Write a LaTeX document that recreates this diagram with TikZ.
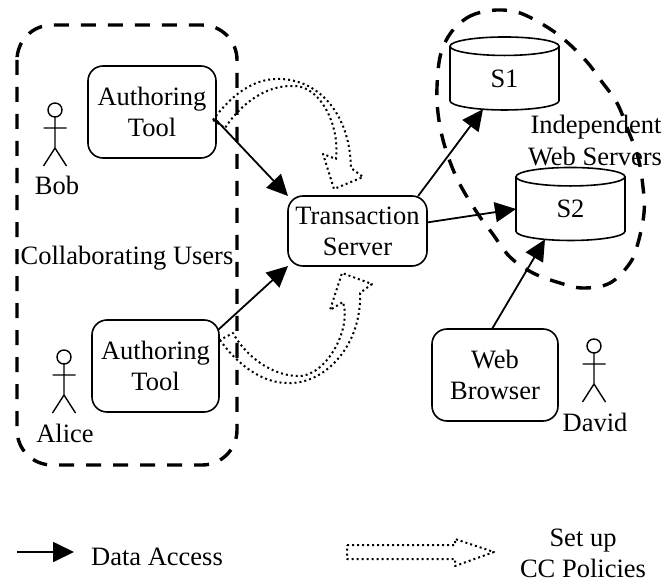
\documentclass[tikz,border=0pt]{standalone}
\usepackage{fontspec}
\setmainfont{Liberation Serif}
\usetikzlibrary{arrows.meta,shapes.geometric}
\tikzset{
  x=1pt,y=-1pt,
  every node/.style={font=\fontsize{26.5}{31}\selectfont,inner sep=0pt,outer sep=0pt},
  toolbox/.style={draw,line width=1.6pt,rounded corners=15pt,align=center},
  store/.style={draw,line width=1.6pt,cylinder,shape border rotate=90,aspect=0.66,minimum width=109pt,minimum height=73pt},
  dataflow/.style={line width=1.8pt,-{Triangle[length=21pt,width=20pt]}},
  groupline/.style={line width=3.4pt,dash pattern=on 15pt off 12pt},
  policyflow/.style={line width=2pt,dash pattern=on 2pt off 3pt,line join=round},
  person/.style={line width=1.4pt},
  lbl/.style={anchor=base}
}
\newcommand{\stick}[2]{%
  \draw[person] (#1,#2) circle[radius=7];
  \draw[person] (#1,#2+7) -- (#1,#2+38) (#1-11.5,#2+18) -- (#1+11.5,#2+18)
    (#1-11.5,#2+56) -- (#1,#2+38) -- (#1+11.5,#2+56);
}
\begin{document}
\begin{tikzpicture}
\useasboundingbox (0,0) rectangle (664,583);
% group outlines
\draw[groupline,rounded corners=35pt] (17,25) rectangle (237,465);
\draw[groupline] plot[smooth cycle,tension=0.6] coordinates {(497,10) (475,14) (460,23) (448,37) (440,57) (437,87) (438,113) (443,140) (452,167) (463,190) (480,217) (492,233) (510,257) (533,273) (560,283) (583,288) (610,283) (630,263) (638,243) (644,213) (643,187) (638,157) (628,130) (617,103) (602,82) (587,62) (567,42) (547,27) (520,13)};
% nodes
\node[toolbox,minimum width=128pt,minimum height=92pt] (a1) at (152,112) {Authoring\\Tool};
\node[toolbox,minimum width=127pt,minimum height=92pt] (a2) at (155.5,366) {Authoring\\Tool};
\node[toolbox,minimum width=139pt,minimum height=70pt] (ts) at (357.5,231) {Transaction\\Server};
\node[toolbox,minimum width=126pt,minimum height=92pt] (wb) at (495,375) {Web\\Browser};
\node[store] (s1) at (504.5,78.5) {S1};
\node[store] (s2) at (570.5,209) {S2};
% people
\stick{55}{110}
\stick{64}{357}
\stick{594}{346}
\node[lbl] (bob) at (57,194) {Bob};
\node[lbl] (alice) at (65,442) {Alice};
\node[lbl] (david) at (595,431) {David};
% labels
\node[lbl] (collab) at (127,264) {Collaborating Users};
\node[lbl] (indep) at (596,134) {Independent};
\node[lbl] (webs) at (595,165) {Web Servers};
% data access
\draw[dataflow] (a1.-7) -- (ts.north west);
\draw[dataflow] (a2.north east) ++(-1,10) coordinate (a2o) (a2o) -- (ts.south west);
\draw[dataflow] (ts.30) -- (s1.235);
\draw[dataflow] (ts.7) -- (s2.west);
\draw[dataflow] (wb.north) ++(-3,0) coordinate (wbo) (wbo) -- (s2.230);
% policy arrows
\draw[policyflow] (213,120) .. controls (235,90) and (258,78) .. (280,79)
  .. controls (320,80) and (350,115) .. (351,168)
  -- (363,177) -- (334,189) -- (323,154) -- (336,159)
  .. controls (340,125) and (320,85) .. (293,86)
  .. controls (265,85) and (240,105) .. (225,128) -- cycle;
\draw[policyflow] (220,340) .. controls (240,368) and (265,383) .. (287,383)
  .. controls (325,385) and (362,345) .. (360,293)
  -- (372,284) -- (342,273) -- (330,310) -- (343,302)
  .. controls (352,330) and (325,378) .. (297,376)
  .. controls (270,375) and (245,355) .. (233,333) -- cycle;
% legend
\coordinate (lgs) at (17,552);
\coordinate (lge) at (74,552);
\draw[dataflow] (lgs) -- (lge);
\node[lbl] (da) at (157,565) {Data Access};
\draw[policyflow] (347,545) -- (455,545) -- (455,539) -- (494,552) -- (455,566) -- (455,559) -- (347,559) -- cycle;
\node[lbl] (su) at (583,546) {Set up};
\node[lbl] (cc) at (583,577) {CC Policies};
\end{tikzpicture}
\end{document}
